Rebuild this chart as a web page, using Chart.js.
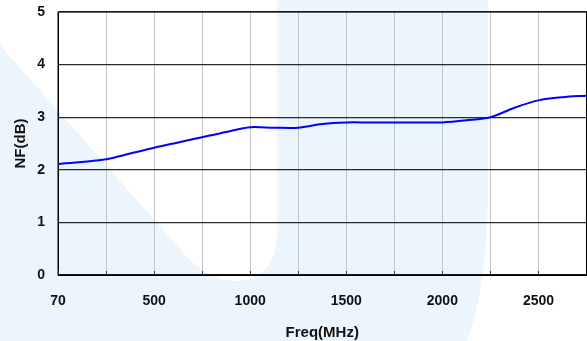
<!DOCTYPE html>
<html>
<head>
<meta charset="utf-8">
<script src="https://cdn.jsdelivr.net/npm/chart.js@4/dist/chart.umd.min.js"></script>
<style>
  html, body { margin: 0; padding: 0; background: #fff; }
  #wrap { width: 587px; height: 341px; }
</style>
</head>
<body>
<div id="wrap"><canvas id="nf-chart" width="587" height="341"></canvas></div>
<script>
// frequency steps (MHz), 125 MHz apart; the first sample is the 70 MHz point
const freqLabels = ["70", "125", "250", "375", "500", "625", "750", "875", "1000", "1125", "1250",
  "1375", "1500", "1625", "1750", "1875", "2000", "2125", "2250", "2375", "2500", "2625", "2750"];
// noise figure (dB)
const nfValues = [2.11, 2.15, 2.20, 2.31, 2.42, 2.52, 2.62, 2.72, 2.81, 2.80, 2.80,
  2.87, 2.90, 2.90, 2.90, 2.90, 2.90, 2.94, 3.00, 3.18, 3.32, 3.38, 3.41];
// only these get a tick label
const shownTicks = ["70", "500", "1000", "1500", "2000", "2500"];

const FONT = "'Liberation Sans', Arial, sans-serif";
const WASH = "#edf5fc";

// faint logo wash behind the whole chart
const backdrop = {
  id: "backdrop",
  beforeDraw(chart) {
    const { ctx, width, height } = chart;
    ctx.save();
    ctx.fillStyle = "#fff";
    ctx.fillRect(0, 0, width, height);
    ctx.beginPath();
    ctx.rect(0, 0, width, height);
    // left hole
    ctx.moveTo(0, 0);
    ctx.lineTo(0, 45);
    ctx.lineTo(187, 257);
    ctx.bezierCurveTo(205, 275, 222, 282, 240, 281);
    ctx.bezierCurveTo(268, 278, 277, 258, 277, 230);
    ctx.lineTo(277, 0);
    ctx.closePath();
    // right hole
    ctx.moveTo(488, 0);
    ctx.lineTo(488, 200);
    ctx.quadraticCurveTo(486, 290, 467, height);
    ctx.lineTo(width, height);
    ctx.lineTo(width, 0);
    ctx.closePath();
    ctx.fillStyle = WASH;
    ctx.fill("evenodd");
    ctx.restore();
  }
};

// plot frame plus short inward tick marks on the x axis
const frame = {
  id: "frame",
  beforeDatasetsDraw(chart) {
    const { ctx, chartArea: a, scales } = chart;
    ctx.save();
    ctx.strokeStyle = "#000";
    ctx.lineWidth = 1;
    ctx.strokeRect(a.left, a.top, a.right - a.left, a.bottom - a.top);
    ctx.strokeStyle = "#333";
    const x = scales.x;
    x.ticks.forEach((t, i) => {
      if (i % 2) return;
      const px = Math.round(x.getPixelForTick(i)) + 0.5;
      ctx.beginPath();
      ctx.moveTo(px, a.bottom);
      ctx.lineTo(px, a.bottom - 4);
      ctx.stroke();
    });
    ctx.restore();
  }
};

// keep the plot box fixed; no extra room for the end labels
function noPad(scale) {
  scale.paddingLeft = 0;
  scale.paddingRight = 0;
  scale.paddingTop = 0;
  scale.paddingBottom = 0;
}

new Chart(document.getElementById("nf-chart"), {
  type: "line",
  data: {
    labels: freqLabels,
    datasets: [{
      data: nfValues,
      borderColor: "#0000ff",
      borderWidth: 2,
      pointRadius: 0,
      tension: 0.3,
      fill: false
    }]
  },
  options: {
    responsive: false,
    animation: false,
    layout: { padding: { top: 12, right: 0.5, left: 0, bottom: 0 } },
    plugins: { legend: { display: false }, tooltip: { enabled: false } },
    scales: {
      x: {
        type: "category",
        offset: false,
        afterFit(scale) { scale.height = 66; noPad(scale); },
        grid: {
          drawTicks: false,
          color: c => (c.index % 2 === 0 ? "#c4c4c4" : "rgba(0,0,0,0)"),
          lineWidth: 1
        },
        border: { color: "#000", width: 1 },
        ticks: {
          autoSkip: false,
          maxRotation: 0,
          padding: 18,
          color: "#111",
          font: { family: FONT, size: 14, weight: "bold" },
          callback(value) {
            const lbl = this.getLabelForValue(value);
            return shownTicks.includes(lbl) ? lbl : "";
          }
        },
        title: {
          display: true,
          text: "Freq(MHz)",
          color: "#111",
          font: { family: FONT, size: 15, weight: "bold" },
          padding: { top: 0, bottom: -1 }
        }
      },
      y: {
        min: 0,
        max: 5,
        afterFit(scale) { scale.width = 58; noPad(scale); },
        grid: { drawTicks: false, color: "#2a2a2a", lineWidth: 1.2 },
        border: { color: "#000", width: 1 },
        ticks: {
          stepSize: 1,
          padding: 13,
          color: "#111",
          font: { family: FONT, size: 14, weight: "bold" }
        },
        title: {
          display: true,
          text: "NF(dB)",
          color: "#111",
          font: { family: FONT, size: 15, weight: "bold" },
          padding: { top: 12, bottom: 0 }
        }
      }
    }
  },
  plugins: [backdrop, frame]
});
</script>
</body>
</html>
